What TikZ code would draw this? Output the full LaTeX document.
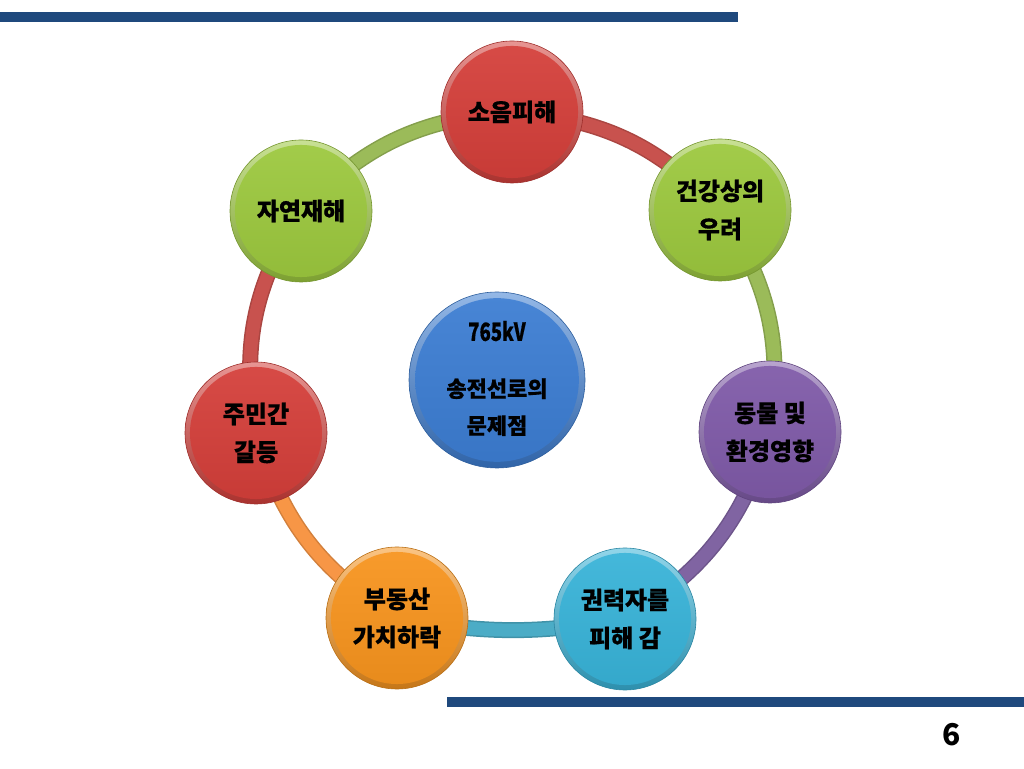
\documentclass[tikz,border=0pt]{standalone}
\usepackage{fontspec}
\newfontfamily\kr{Noto Sans CJK KR}
\usetikzlibrary{calc}
\definecolor{barblue}{HTML}{1F497D}
\definecolor{cred}{HTML}{D43F3A}
\definecolor{cgreen}{HTML}{9CC83E}
\definecolor{cpurple}{HTML}{7F5AA8}
\definecolor{ccyan}{HTML}{38B3D8}
\definecolor{corange}{HTML}{F7941E}
\definecolor{cblue}{HTML}{3C7DD2}
\definecolor{rred}{HTML}{C8524E}
\definecolor{rgreen}{HTML}{9BBB59}
\definecolor{rpurple}{HTML}{8064A2}
\definecolor{rcyan}{HTML}{4BACC6}
\definecolor{rorange}{HTML}{F79646}
\tikzset{
  bub/.style={circle, minimum size=142pt, inner sep=0pt, align=center,
    font=\kr\bfseries\fontsize{24}{38}\selectfont\addfontfeature{FakeBold=0.6}, text=black,
    draw=#1!75!black, line width=0.6pt,
    path picture={
      \shade[top color=#1!55!white, bottom color=#1!80!black]
        (path picture bounding box.south west) rectangle (path picture bounding box.north east);
      \path let \p1=(path picture bounding box.north), \p2=(path picture bounding box.center),
        \n1={0.93*(\y1-\y2)} in
        [shade, top color=#1!94!white, bottom color=#1!94!black, shading angle=0]
        (path picture bounding box.center) circle (\n1);
    }},
  centerbub/.style={bub=#1, minimum size=176pt,
    font=\kr\bfseries\fontsize{22}{37}\selectfont\addfontfeature{FakeBold=0.6}},
  ringline/.style={line width=16pt, draw=#1!85!black},
  ringfill/.style={line width=13pt, draw=#1},
  bar/.style={fill=barblue}
}
\begin{document}
\begin{tikzpicture}[x=1pt,y=1pt]
\useasboundingbox (0,0) rectangle (1024,768);
% bars
\fill[bar] (0,746) rectangle (738,756);
\fill[bar] (447,61) rectangle (1024,71);
% positions
\coordinate (p1) at (512,656);
\coordinate (p2) at (720,558);
\coordinate (p3) at (770,336);
\coordinate (p4) at (625,149);
\coordinate (p5) at (397,150);
\coordinate (p6) at (256,335);
\coordinate (p7) at (301,557);
% ring segments
\foreach \a/\b/\c/\t in {p1/p2/rred/21, p2/p3/rgreen/21, p3/p4/rpurple/21, p4/p5/rcyan/10,
                         p5/p6/rorange/21, p6/p7/rred/21, p7/p1/rgreen/21}{
  \draw[ringline=\c] (\a) to[bend left=\t] (\b);
  \draw[ringfill=\c] (\a) to[bend left=\t] (\b);
}
% circles
\node[bub=cred] (n1) at (p1) {소음피해};
\node[bub=cgreen] (n2) at (p2) {건강상의\\우려};
\node[bub=cpurple] (n3) at (p3) {동물 및\\환경영향};
\node[bub=ccyan] (n4) at (p4) {권력자를\\피해 감};
\node[bub=corange] (n5) at (p5) {부동산\\가치하락};
\node[bub=cred] (n6) at (p6) {주민간\\갈등};
\node[bub=cgreen] (n7) at (p7) {자연재해};
\node[centerbub=cblue] (c) at (497,388)
  {\raisebox{5pt}{\begin{tabular}{@{}c@{}}\scalebox{0.74}[1]{\fontsize{25}{37}\selectfont 765kV}\\[19pt]송전선로의\\문제점\end{tabular}}};
% page number
\node[font=\kr\bfseries\fontsize{30}{30}\selectfont] (pg) at (952,33) {6};
\end{tikzpicture}
\end{document}
